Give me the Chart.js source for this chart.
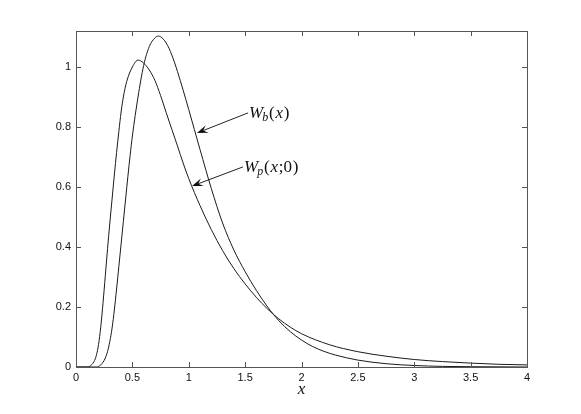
<!DOCTYPE html>
<html>
<head>
<meta charset="utf-8">
<script src="https://cdn.jsdelivr.net/npm/chart.js@4.4.1/dist/chart.umd.min.js"></script>
<style>
html,body{margin:0;padding:0;background:#fff;}
#wrap{width:581px;height:414px;}
</style>
</head>
<body>
<div id="wrap"><canvas id="plot" width="581" height="414"></canvas></div>
<script>
// W_p(x;0)
var wpX = [0, 0.1, 0.12, 0.14, 0.16, 0.18, 0.2, 0.22, 0.24, 0.26, 0.28, 0.3, 0.32, 0.34, 0.36, 0.38, 0.4, 0.42, 0.45, 0.5, 0.55, 0.6, 0.65, 0.7, 0.75, 0.8, 0.85, 0.9, 0.95, 1.0, 1.1, 1.2, 1.3, 1.4, 1.5, 1.6, 1.7, 1.8, 1.9, 2.0, 2.25, 2.5, 2.75, 3.0, 3.25, 3.5, 3.75, 4.0]
var wpY = [0, 0, 0.002, 0.008, 0.018, 0.038, 0.075, 0.135, 0.215, 0.305, 0.395, 0.48, 0.56, 0.64, 0.715, 0.785, 0.85, 0.9, 0.952, 1.0, 1.023, 1.013, 0.99, 0.955, 0.905, 0.848, 0.792, 0.737, 0.68, 0.628, 0.538, 0.458, 0.388, 0.328, 0.277, 0.232, 0.193, 0.16, 0.133, 0.111, 0.074, 0.051, 0.036, 0.025, 0.018, 0.013, 0.009, 0.007]
// W_b(x)
var wbX = [0, 0.18, 0.2, 0.22, 0.24, 0.26, 0.28, 0.3, 0.32, 0.34, 0.36, 0.38, 0.4, 0.42, 0.44, 0.46, 0.48, 0.5, 0.55, 0.6, 0.65, 0.7, 0.73, 0.75, 0.8, 0.85, 0.9, 0.95, 1.0, 1.1, 1.2, 1.3, 1.4, 1.5, 1.6, 1.7, 1.8, 1.9, 2.0, 2.1, 2.2, 2.3, 2.5, 2.75, 3.0, 3.25, 3.5, 4.0]
var wbY = [0, 0, 0.002, 0.007, 0.016, 0.03, 0.052, 0.085, 0.13, 0.19, 0.26, 0.335, 0.41, 0.485, 0.56, 0.635, 0.705, 0.77, 0.9, 1.005, 1.068, 1.097, 1.103, 1.101, 1.08, 1.04, 0.985, 0.923, 0.858, 0.725, 0.595, 0.48, 0.39, 0.318, 0.255, 0.2, 0.154, 0.118, 0.09, 0.068, 0.052, 0.04, 0.023, 0.011, 0.005, 0.002, 0.001, 0]

var xTickVals = [0, 0.5, 1, 1.5, 2, 2.5, 3, 3.5, 4]
var yTickVals = [0, 0.2, 0.4, 0.6, 0.8, 1]

// labels with arrows, in data units
var notes = [
    {parts: [['W', 1, 0], ['b', 1, 1], ['(', 0, 0], ['x', 1, 0], [')', 0, 0]], fromX: 1.526, fromY: 0.847, toX: 1.073, toY: 0.78},
    {parts: [['W', 1, 0], ['p', 1, 1], ['(', 0, 0], ['x', 1, 0], [';0', 0, 0], [')', 0, 0]], fromX: 1.481, fromY: 0.667, toX: 1.029, toY: 0.603}
]

function pts(xs, ys) {
    var out = []
    for (var i = 0; i < xs.length; i++) out.push({x: xs[i], y: ys[i]})
    return out
}

var frame = {
    id: 'frame',
    afterDatasetsDraw: function (chart) {
        var ctx = chart.ctx, a = chart.chartArea
        var sx = chart.scales.x, sy = chart.scales.y
        ctx.save()
        ctx.strokeStyle = '#555'
        ctx.lineWidth = 1
        ctx.strokeRect(Math.round(a.left) + 0.5, Math.round(a.top) + 0.5, Math.round(a.right - a.left), Math.round(a.bottom - a.top))
        ctx.beginPath()
        xTickVals.forEach(function (v) {
            var p = Math.round(sx.getPixelForValue(v)) + 0.5
            ctx.moveTo(p, a.bottom); ctx.lineTo(p, a.bottom - 5)
            ctx.moveTo(p, a.top); ctx.lineTo(p, a.top + 5)
        })
        yTickVals.forEach(function (v) {
            var p = Math.round(sy.getPixelForValue(v)) + 0.5
            ctx.moveTo(a.left, p); ctx.lineTo(a.left + 5, p)
            ctx.moveTo(a.right, p); ctx.lineTo(a.right - 5, p)
        })
        ctx.stroke()
        ctx.restore()
    },
    afterDraw: function (chart) {
        var ctx = chart.ctx
        var sx = chart.scales.x, sy = chart.scales.y
        ctx.save()
        notes.forEach(function (n) {
            var x0 = sx.getPixelForValue(n.fromX), y0 = sy.getPixelForValue(n.fromY)
            var x1 = sx.getPixelForValue(n.toX), y1 = sy.getPixelForValue(n.toY)
            var ang = Math.atan2(y1 - y0, x1 - x0)
            var L = 11, W = 4
            var bx = x1 - L * Math.cos(ang), by = y1 - L * Math.sin(ang)
            var nx = x1 - 0.6 * L * Math.cos(ang), ny = y1 - 0.6 * L * Math.sin(ang)
            ctx.strokeStyle = '#222'
            ctx.fillStyle = '#111'
            ctx.lineWidth = 1
            ctx.beginPath()
            ctx.moveTo(x0, y0); ctx.lineTo(nx, ny)
            ctx.stroke()
            ctx.beginPath()
            ctx.moveTo(x1, y1)
            ctx.lineTo(bx + W * Math.sin(ang), by - W * Math.cos(ang))
            ctx.lineTo(nx, ny)
            ctx.lineTo(bx - W * Math.sin(ang), by + W * Math.cos(ang))
            ctx.closePath()
            ctx.fill()
            // text
            var cx = x0 + 1
            ctx.textBaseline = 'alphabetic'
            ctx.fillStyle = '#111'
            n.parts.forEach(function (p) {
                var size = p[2] ? 12 : 17
                ctx.font = (p[1] ? 'italic ' : '') + size + 'px "Liberation Serif"'
                var dy = p[2] ? 3 : 0
                ctx.fillText(p[0], cx, y0 + 5 + dy)
                cx += ctx.measureText(p[0]).width + (p[0] == 'W' ? -1 : 0.8)
            })
        })
        ctx.restore()
    }
}

var tickFont = {family: '"Liberation Sans", Arial, sans-serif', size: 11}
function plainNum(v) { return '' + v }

new Chart(document.getElementById('plot'), {
    type: 'line',
    data: {
        datasets: [
            {label: 'W_p(x;0)', data: pts(wpX, wpY)},
            {label: 'W_b(x)', data: pts(wbX, wbY)}
        ]
    },
    options: {
        responsive: false,
        devicePixelRatio: 1,
        animation: false,
        layout: {padding: {left: 0, top: 31, right: 54, bottom: 0}},
        elements: {
            point: {radius: 0},
            line: {borderColor: '#1a1a1a', borderWidth: 1, cubicInterpolationMode: 'monotone'}
        },
        plugins: {legend: {display: false}, tooltip: {enabled: false}},
        scales: {
            x: {
                type: 'linear', min: 0, max: 4,
                afterFit: function (s) { s.height = 47 },
                afterBuildTicks: function (s) { s.ticks = xTickVals.map(function (v) { return {value: v} }) },
                grid: {display: false, drawTicks: false},
                border: {display: false},
                ticks: {color: '#111', font: tickFont, padding: 4, maxRotation: 0, callback: plainNum},
                title: {display: true, text: 'x', color: '#111', font: {family: '"Liberation Serif"', style: 'italic', size: 17}, padding: {top: 0, bottom: 14}}
            },
            y: {
                type: 'linear', min: 0, max: 1.12,
                afterFit: function (s) { s.width = 76 },
                afterBuildTicks: function (s) { s.ticks = yTickVals.map(function (v) { return {value: v} }) },
                grid: {display: false, drawTicks: false},
                border: {display: false},
                ticks: {color: '#111', font: tickFont, padding: 5, callback: plainNum}
            }
        }
    },
    plugins: [frame]
})
</script>
</body>
</html>
